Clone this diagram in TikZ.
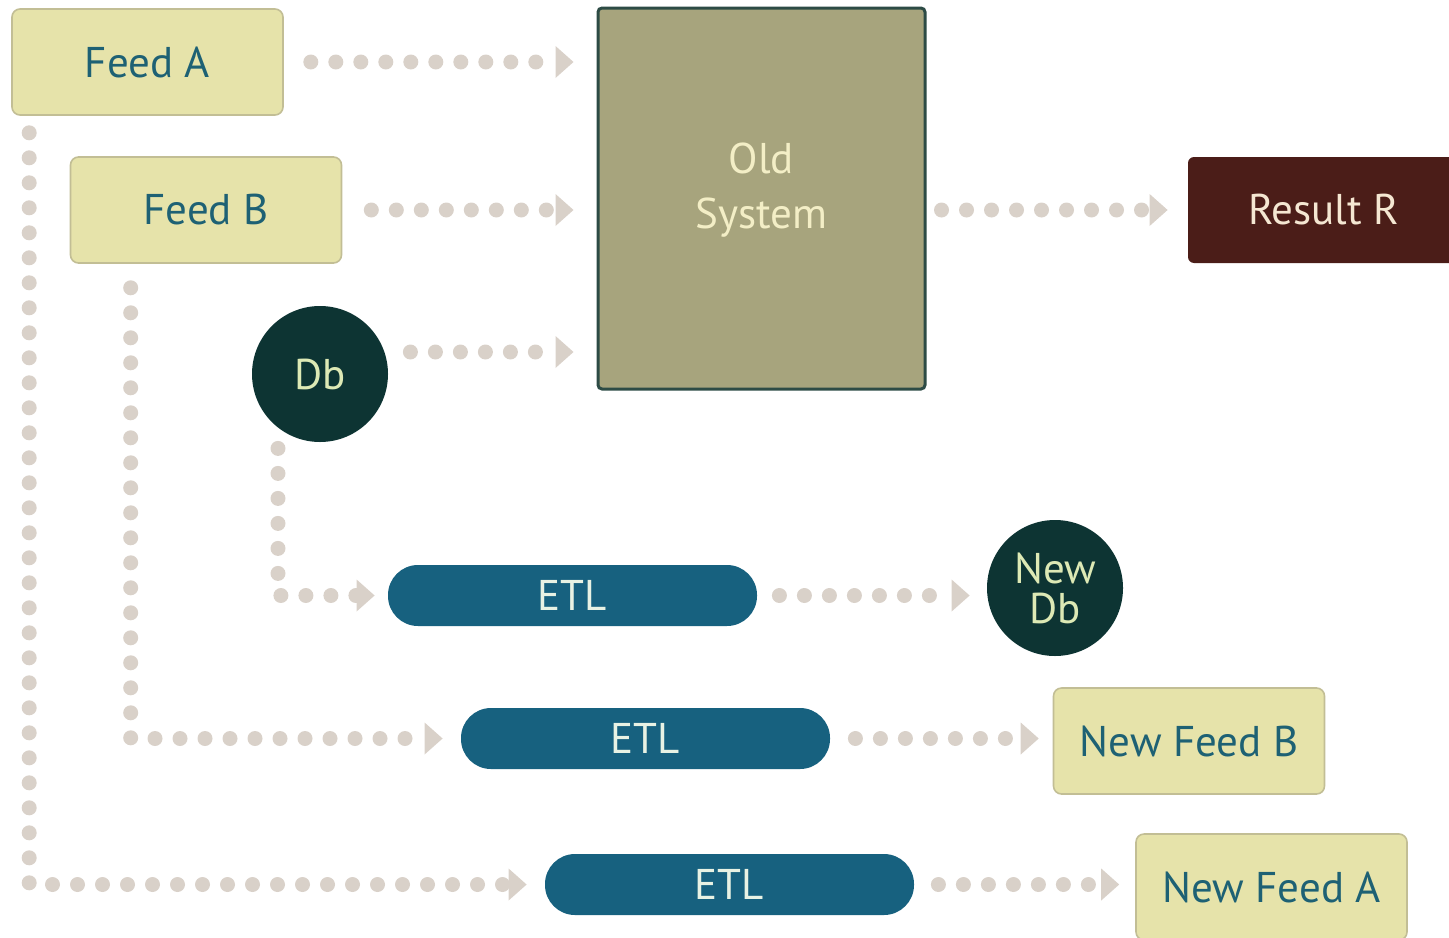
\documentclass[tikz,border=0pt]{standalone}
\usepackage{fontspec}
\setmainfont{PT Sans}
\usetikzlibrary{calc,positioning,arrows.meta,shapes}

\definecolor{feedfill}{HTML}{E6E3AA}
\definecolor{feedline}{HTML}{C2BE95}
\definecolor{feedtext}{HTML}{1E6174}
\definecolor{dbfill}{HTML}{0D3433}
\definecolor{dbtext}{HTML}{DDE9B5}
\definecolor{oldfill}{HTML}{A7A47D}
\definecolor{oldline}{HTML}{2D4B45}
\definecolor{oldtext}{HTML}{F3EEC6}
\definecolor{resfill}{HTML}{4B1D18}
\definecolor{restext}{HTML}{F5E7D2}
\definecolor{etlfill}{HTML}{17617F}
\definecolor{etltext}{HTML}{E8F2E4}
\definecolor{dotcol}{HTML}{D9D1C9}

\begin{document}
\begin{tikzpicture}[x=0.5pt,y=-0.5pt,
  every node/.style={font=\fontsize{21.5}{27.5}\selectfont,inner sep=0pt},
  feed/.style={draw=feedline,fill=feedfill,line width=0.8pt,rounded corners=4pt,minimum width=135.5pt,minimum height=53pt,text=feedtext},
  store/.style={circle,fill=dbfill,text=dbtext,minimum size=68pt,align=center},
  etl/.style={fill=etlfill,text=etltext,rounded corners=15pt,minimum width=184.5pt,minimum height=30.5pt},
  flow/.style={draw=dotcol,line width=7.5pt,line cap=round,dash pattern=on 0pt off 12.5pt,-{Triangle[length=9pt,width=16pt,line width=0pt]}}]
     \useasboundingbox (0,0) rectangle (1449,937);

     \node[feed] (fa) at (147.5,62) {Feed A};
     \node[feed] (fb) at (206,210) {Feed B};
     \node[store] (db) at (320,374) {Db};
     \node[draw=oldline,fill=oldfill,line width=1.5pt,rounded corners=2pt,minimum width=163.5pt,minimum height=190.5pt] (old) at (761.5,198.5) {};
     \node[text=oldtext,align=center] (oldtxt) at (761.5,190) {Old\\System};
     \node[fill=resfill,text=restext,rounded corners=3pt,minimum width=135.5pt,minimum height=53pt] (res) at (1323.5,210) {Result R};

     \node[etl] (e1) at (572.5,595.5) {ETL};
     \node[store,font=\fontsize{21.5}{20}\selectfont] (ndb) at (1055,588) {New\\Db};
     \node[etl] (e2) at (645.5,738.5) {ETL};
     \node[feed] (nfb) at (1189,741) {New Feed B};
     \node[etl] (e3) at (729.5,884.5) {ETL};
     \node[feed] (nfa) at (1271.5,887) {New Feed A};

     \draw[flow,shorten <=13.5pt,shorten >=11.5pt] (fa.east) -- (fa.east -| old.west);
     \draw[flow,shorten <=14.5pt,shorten >=11.5pt] (fb.east) -- (fb.east -| old.west);
     \draw[flow,shorten >=11.5pt] ([xshift=11pt,yshift=11pt]db.east) -- ([yshift=11pt]db.east -| old.west);
     \draw[flow,shorten <=7.5pt,shorten >=10pt] (res.west -| old.east) -- (res.west);
     \draw[flow,shorten >=6.5pt] ([xshift=-21pt,yshift=-3pt]db.south) |- (e1.west);
     \draw[flow,shorten <=11pt,shorten >=8.5pt] (e1.east) -- (e1.east -| ndb.west);
     \draw[flow,shorten >=9pt] ([xshift=30.5pt,yshift=-12pt]fb.south west) |- (e2.west);
     \draw[flow,shorten <=12.5pt,shorten >=7pt] (e2.east) -- (e2.east -| nfb.west);
     \draw[flow,shorten >=9pt] ([xshift=9pt,yshift=-8.5pt]fa.south west) |- (e3.west);
     \draw[flow,shorten <=12pt,shorten >=8pt] (e3.east) -- (e3.east -| nfa.west);
\end{tikzpicture}
\end{document}
